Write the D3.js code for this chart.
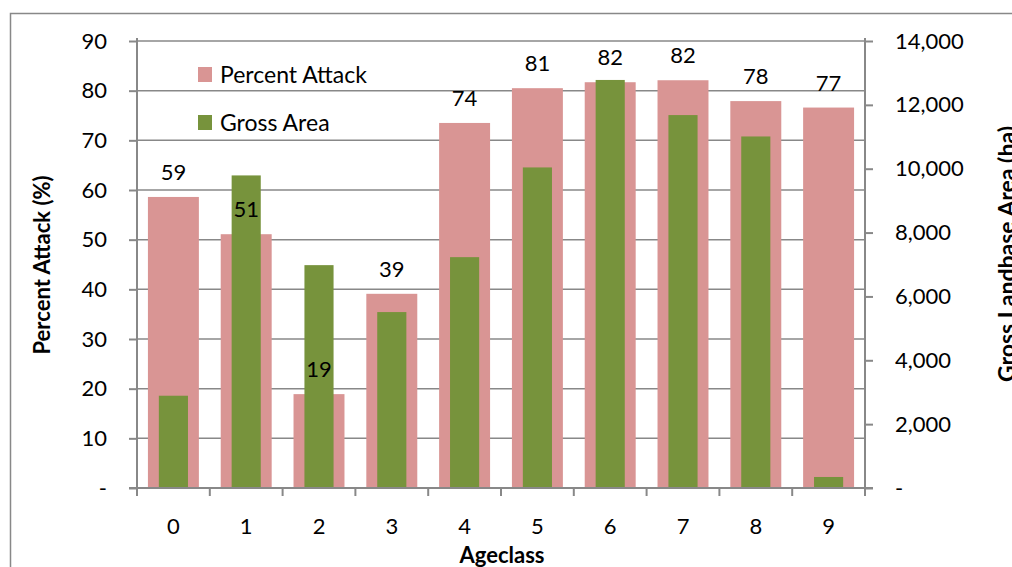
<!DOCTYPE html>
<html>
<head>
<meta charset="utf-8">
<script src="https://cdn.jsdelivr.net/npm/d3@7"></script>
<style>
  body { margin: 0; background: #fff; }
  svg { display: block; font-family: Lato, "Noto Sans", sans-serif; }
</style>
</head>
<body>
<svg></svg>
<script>
let ageclass = ["0", "1", "2", "3", "4", "5", "6", "7", "8", "9"]
let percentAttack = [58.6, 51.1, 18.9, 39.1, 73.5, 80.5, 81.7, 82.1, 77.9, 76.6]
let percentLabels = ["59", "51", "19", "39", "74", "81", "82", "82", "78", "77"]
let grossArea = [2890, 9790, 6980, 5510, 7230, 10040, 12780, 11680, 11010, 345]
let leftTicks = [0, 10, 20, 30, 40, 50, 60, 70, 80, 90]
let rightTicks = [0, 2000, 4000, 6000, 8000, 10000, 12000, 14000]

let width = 1012
let height = 567
let plotLeft = 137
let plotRight = 865
let plotTop = 41
let plotBottom = 488
let fontSize = 22

let pink = "#d99594"
let green = "#77933c"
let gray = "#888888"

let svg = d3.select('svg')
let xScale
let yScale
let y2Scale

// function: drawCanvas
let drawCanvas = () => {
  svg.attr('width', width)
  svg.attr('height', height)
  // chart border (runs off the right and bottom edges)
  svg.append('path')
    .attr('d', 'M10.5,' + height + ' V13.5 H' + width)
    .attr('fill', 'none')
    .attr('stroke', gray)
    .attr('stroke-width', 1.5)
}

// function: genScales
let genScales = () => {
  xScale = d3.scaleBand()
    .domain(ageclass)
    .range([plotLeft, plotRight])
    .padding(0)
  yScale = d3.scaleLinear()
    .domain([0, 90])
    .range([plotBottom, plotTop])
  y2Scale = d3.scaleLinear()
    .domain([0, 14000])
    .range([plotBottom, plotTop])
}

// function: drawGrid
let drawGrid = () => {
  svg.append('g')
    .selectAll('line')
    .data(leftTicks.slice(1))
    .enter()
    .append('line')
    .attr('x1', plotLeft)
    .attr('x2', plotRight)
    .attr('y1', (d) => yScale(d))
    .attr('y2', (d) => yScale(d))
    .attr('stroke', gray)
    .attr('stroke-width', 1.5)
}

// function: drawBars
let drawBars = () => {
  let bw = xScale.bandwidth()
  svg.append('g')
    .selectAll('rect')
    .data(percentAttack)
    .enter()
    .append('rect')
    .attr('fill', pink)
    .attr('x', (d, i) => xScale(ageclass[i]) + bw * 0.15)
    .attr('width', bw * 0.7)
    .attr('y', (d) => yScale(d))
    .attr('height', (d) => plotBottom - yScale(d))

  svg.append('g')
    .selectAll('rect')
    .data(grossArea)
    .enter()
    .append('rect')
    .attr('fill', green)
    .attr('x', (d, i) => xScale(ageclass[i]) + bw * 0.3)
    .attr('width', bw * 0.4)
    .attr('y', (d) => y2Scale(d))
    .attr('height', (d) => plotBottom - y2Scale(d))

  svg.append('g')
    .selectAll('text')
    .data(percentAttack)
    .enter()
    .append('text')
    .attr('x', (d, i) => xScale(ageclass[i]) + bw / 2)
    .attr('y', (d) => yScale(d) - 17)
    .attr('text-anchor', 'middle')
    .attr('font-size', fontSize)
    .attr('fill', '#000')
    .text((d, i) => percentLabels[i])
}

// function: drawAxes
let drawAxes = () => {
  let fmtLeft = (d) => d === 0 ? '-' : d
  let fmtRight = (d) => d === 0 ? '-' : d3.format(',')(d)

  let yAxis = d3.axisLeft(yScale).tickValues(leftTicks).tickFormat(fmtLeft)
    .tickSizeInner(8).tickSizeOuter(0).tickPadding(22)
  let gy = svg.append('g')
    .attr('transform', 'translate(' + plotLeft + ',0)')
    .call(yAxis)

  let y2Axis = d3.axisRight(y2Scale).tickValues(rightTicks).tickFormat(fmtRight)
    .tickSizeInner(8).tickSizeOuter(0).tickPadding(22)
  let gy2 = svg.append('g')
    .attr('transform', 'translate(' + plotRight + ',0)')
    .call(y2Axis)

  let xAxis = d3.axisBottom(xScale).tickSizeInner(0).tickSizeOuter(0).tickPadding(30)
  let gx = svg.append('g')
    .attr('transform', 'translate(0,' + plotBottom + ')')
    .call(xAxis)

  // category boundary ticks
  svg.append('g')
    .selectAll('line')
    .data(ageclass.concat(['end']))
    .enter()
    .append('line')
    .attr('x1', (d, i) => i < ageclass.length ? xScale(d) : plotRight)
    .attr('x2', (d, i) => i < ageclass.length ? xScale(d) : plotRight)
    .attr('y1', plotBottom)
    .attr('y2', plotBottom + 8)
    .attr('stroke', gray)
    .attr('stroke-width', 2)

  ;[gy, gy2, gx].forEach((g) => {
    g.select('.domain').attr('stroke', gray).attr('stroke-width', 2)
    g.selectAll('.tick line').attr('stroke', gray).attr('stroke-width', 2)
    g.selectAll('.tick text').attr('font-size', fontSize).attr('fill', '#000')
      .attr('font-family', 'Lato, "Noto Sans", sans-serif')
  })
  gy.select('.domain').attr('d', 'M0,' + (plotTop - 3) + 'V' + (plotBottom + 8))
  gy2.select('.domain').attr('d', 'M0,' + (plotTop - 3) + 'V' + (plotBottom + 8))
  gx.select('.domain').attr('d', 'M' + (plotLeft - 8) + ',0H' + (plotRight + 8))
}

// function: drawTitles
let drawTitles = () => {
  svg.append('text')
    .attr('transform', 'translate(50,265) rotate(-90)')
    .attr('text-anchor', 'middle')
    .attr('font-size', fontSize)
    .attr('font-weight', 'bold')
    .text('Percent Attack (%)')

  svg.append('text')
    .attr('transform', 'translate(1015,254) rotate(-90)')
    .attr('text-anchor', 'middle')
    .attr('font-size', 23)
    .attr('font-weight', 'bold')
    .text('Gross Landbase Area (ha)')

  svg.append('text')
    .attr('x', 502)
    .attr('y', 563)
    .attr('text-anchor', 'middle')
    .attr('font-size', fontSize)
    .attr('font-weight', 'bold')
    .text('Ageclass')
}

// function: drawLegend
let drawLegend = () => {
  let items = [['Percent Attack', pink], ['Gross Area', green]]
  let lg = svg.append('g')
  items.forEach((it, i) => {
    lg.append('rect')
      .attr('x', 198)
      .attr('y', 67 + i * 48)
      .attr('width', 14)
      .attr('height', 15)
      .attr('fill', it[1])
    lg.append('text')
      .attr('x', 220)
      .attr('y', 83 + i * 48)
      .attr('font-size', 23)
      .text(it[0])
  })
}

drawCanvas()
genScales()
drawGrid()
drawBars()
drawAxes()
drawTitles()
drawLegend()
</script>
</body>
</html>
